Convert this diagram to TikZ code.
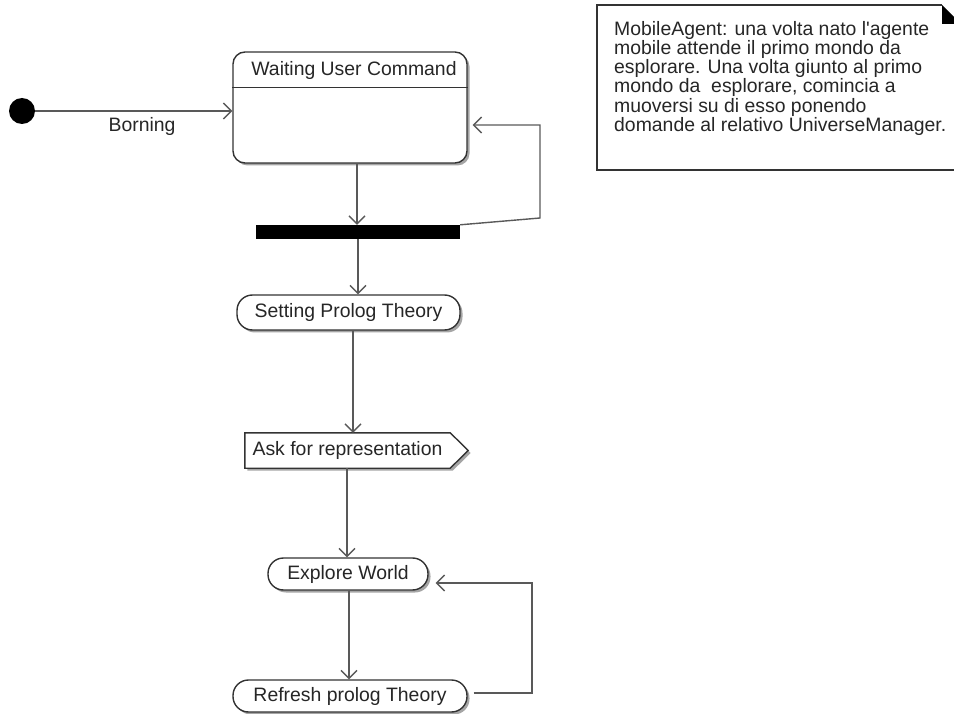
\documentclass[tikz,border=0pt]{standalone}
\usepackage{fontspec}
\setmainfont{Liberation Sans}
\usetikzlibrary{arrows.meta,shadows}
\begin{document}
\begin{tikzpicture}[x=1pt,y=-1pt,
  txt/.style={font=\fontsize{19.4}{19.2}\selectfont, text=black!85},
  conn/.style={draw=black!65, line width=1.4pt, -{Straight Barb[length=8pt,width=16pt,line width=1.4pt]}},
  edge/.style={draw=black!80, line width=1.4pt},
  shad/.style={drop shadow={shadow xshift=2.5pt,shadow yshift=-2.5pt,opacity=0.5,fill=black!70}},
  stadium/.style={txt, edge, fill=white, rounded corners=15.5pt, inner sep=0pt, shad},
]
\useasboundingbox (0,0) rectangle (954,714);

% initial state
\node[circle, fill=black, minimum size=26pt, inner sep=0pt] (init) at (22,111) {};

% waiting user command
\node[edge, rounded corners=12pt, minimum width=234pt, minimum height=111pt, fill=white, shad, inner sep=0pt] (wait) at (350,107.5) {};
\draw[edge] ([yshift=-36pt]wait.north west) -- ([yshift=-36pt]wait.north east);
\node[txt] (waitlbl) at (354,70) {Waiting User Command};

\draw[conn] (init.east) -- (wait.west |- init.east);
\node[txt] (borning) at (142,126) {Borning};

% synchronisation bar
\node[fill=black, minimum width=204pt, minimum height=14pt, inner sep=0pt] (bar) at (358,232) {};
\draw[conn] ([xshift=7pt]wait.south) -- ([xshift=7pt]wait.south |- bar.north);
\draw[conn] (bar.north east) -- (540,218) -- (540,125) -- ([shift={(5,17.5)}]wait.east);

% setting prolog theory
\node[stadium, minimum width=223pt, minimum height=35pt] (set) at (348.5,312.5) {Setting Prolog Theory};
\draw[conn] (bar.south) -- (bar.south |- set.north);

% ask for representation
\node[minimum width=205pt, minimum height=35pt, inner sep=0pt] (ask) at (347.5,450.5) {};
\path[edge, fill=white, shad] (ask.north west) -- (ask.north east) -- ([xshift=18pt]ask.east) -- (ask.south east) -- (ask.south west) -- cycle;
\node[txt] (asklbl) at (ask) {Ask for representation};
\draw[conn] ([xshift=4.5pt]set.south) -- ([xshift=4.5pt]set.south |- ask.north);

% explore world
\node[stadium, minimum width=160pt, minimum height=32pt] (explore) at (348,574) {Explore World};
\draw[conn] ([xshift=-0.5pt]ask.south) -- ([xshift=-0.5pt]ask.south |- explore.north);

% refresh prolog theory
\node[stadium, minimum width=234pt, minimum height=32pt] (refresh) at (350,696) {Refresh prolog Theory};
\draw[conn] ([xshift=1pt]explore.south) -- ([xshift=1pt]explore.south |- refresh.north);
\draw[conn] ([shift={(6,-3)}]refresh.east) -- (532,693) -- (532,583) -- ([shift={(7,9)}]explore.east);

% note
\draw[edge, fill=white] (942,5) -- (597,5) -- (597,170) -- (954,170);
\fill[black] (942,5) -- (954,17) -- (954,24) -- (942,24) -- cycle;
\node[txt, anchor=north west, inner sep=0pt, align=left] (note) at (614,21)
  {MobileAgent: una volta nato l\textquotesingle agente\\
   mobile attende il primo mondo da\\
   esplorare. Una volta giunto al primo\\
   mondo da\ \ esplorare, comincia a\\
   muoversi su di esso ponendo\\
   domande al relativo UniverseManager.};
\end{tikzpicture}
\end{document}
